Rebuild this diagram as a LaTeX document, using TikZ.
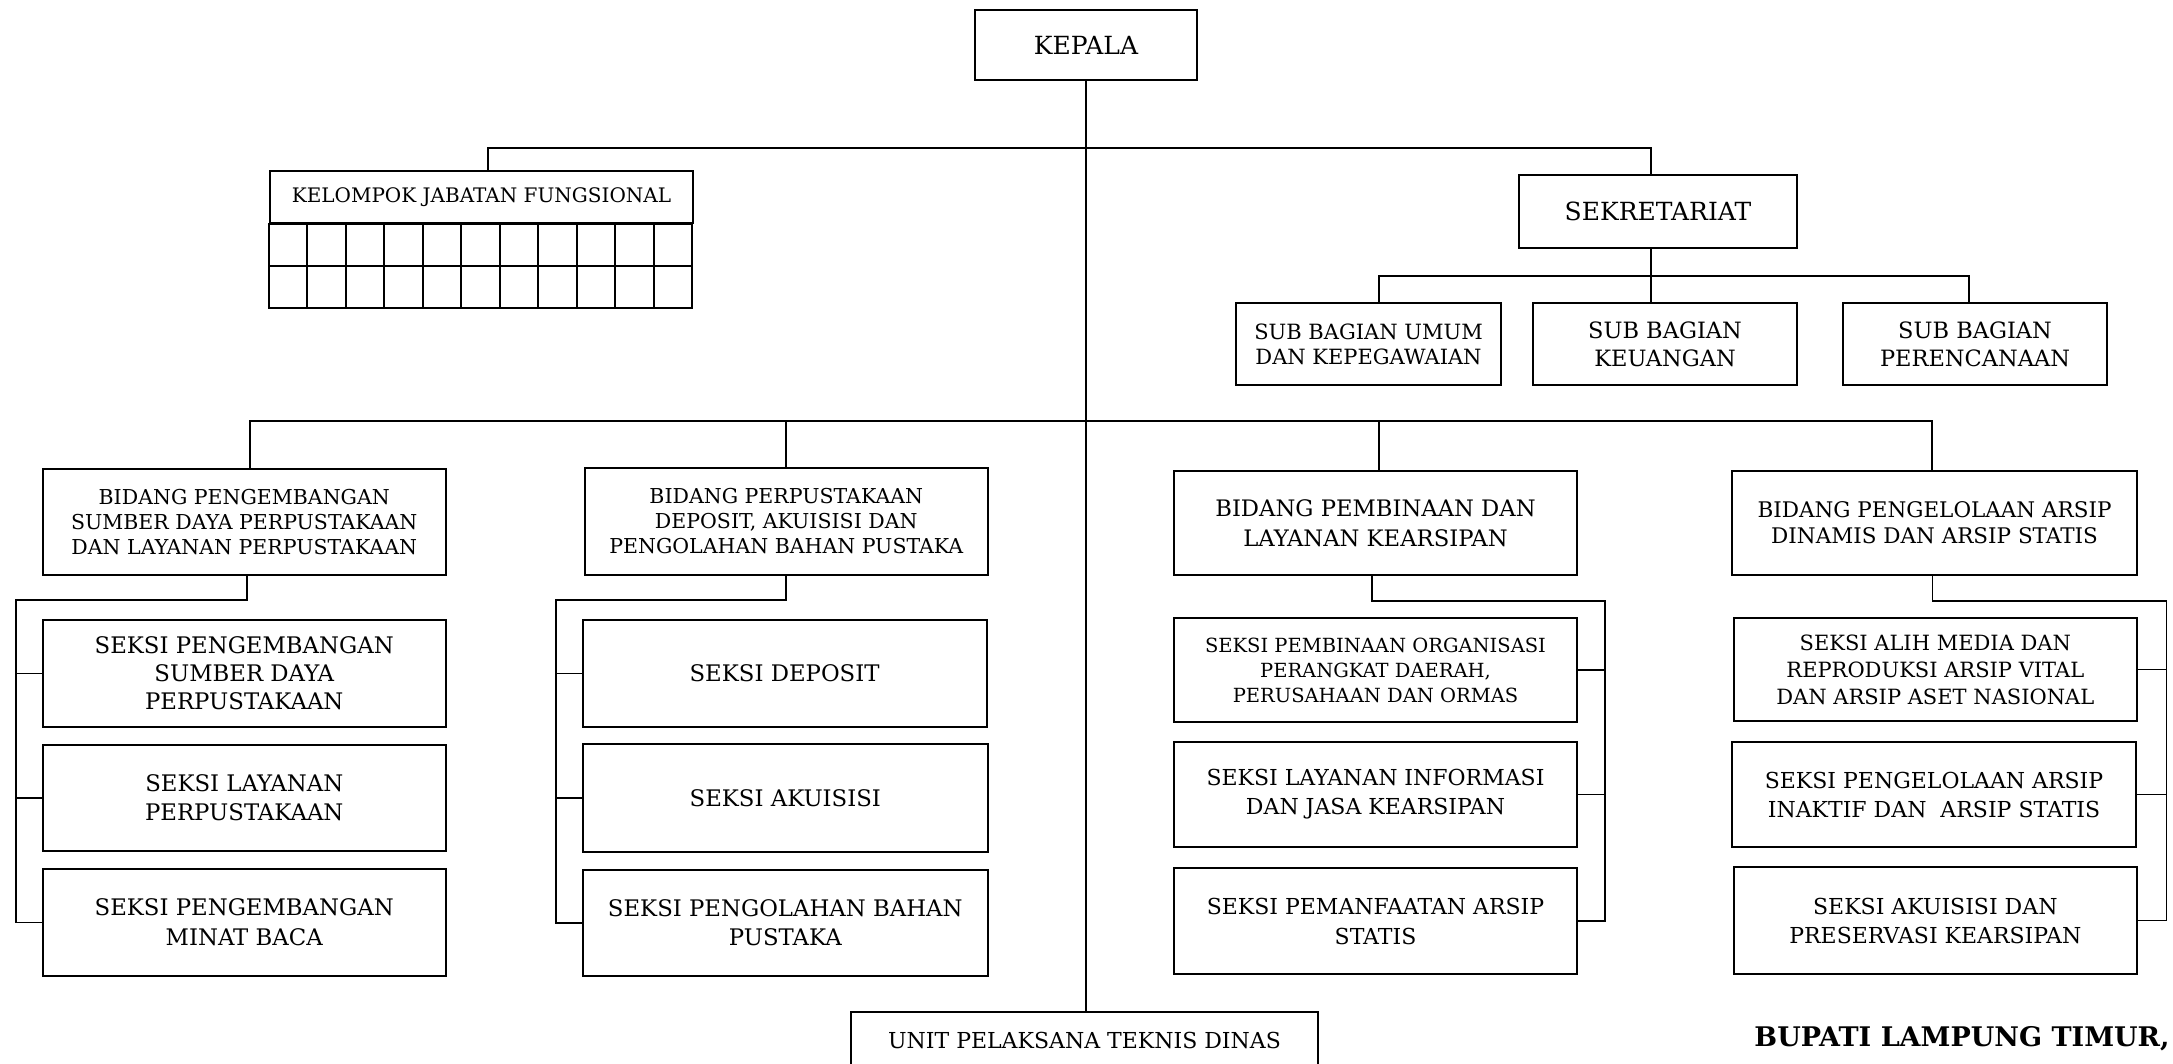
\documentclass[tikz,border=0pt]{standalone}
\usepackage{fontspec}
\setmainfont{DejaVu Serif}
\begin{document}
\begin{tikzpicture}[x=1pt,y=-1pt,
  bx/.style={draw, line width=2pt, inner sep=0pt, align=center, anchor=north west},
  ln/.style={line width=1.9pt},
  fs/.style 2 args={font=\fontsize{#1}{#2}\selectfont}
]
\useasboundingbox (0,0) rectangle (2173,1064);
\clip (0,0) rectangle (2173,1064);

% top
\node[bx, fs={25}{30}, minimum width=222pt, minimum height=70pt] (kepala) at (974,9) {KEPALA};
\node[bx, fs={20}{24}, minimum width=423pt, minimum height=52pt] (kjf) at (269,170) {KELOMPOK JABATAN FUNGSIONAL};
\draw[line width=2pt] (kjf.south west) rectangle ++(423,84);
\draw[line width=2pt] ([yshift=-42pt]kjf.south west) -- ++(423,0);
\foreach \i in {1,...,10} \draw[line width=2pt] ([xshift=\i*38.4545pt]kjf.south west) -- ++(0,84);

\node[bx, fs={25}{30}, minimum width=278pt, minimum height=73pt] (sekr) at (1518,174) {SEKRETARIAT};
\node[bx, fs={21}{25}, minimum width=265pt, minimum height=82pt] (sub1) at (1235,302) {SUB BAGIAN UMUM\\DAN KEPEGAWAIAN};
\node[bx, fs={22.5}{28}, minimum width=264pt, minimum height=82pt] (sub2) at (1532,302) {SUB BAGIAN\\KEUANGAN};
\node[bx, fs={22.5}{28}, minimum width=264pt, minimum height=82pt] (sub3) at (1842,302) {SUB BAGIAN\\PERENCANAAN};

% bidang
\node[bx, fs={20.5}{25}, minimum width=403.5pt, minimum height=106pt] (bid1) at (41.5,468) {BIDANG PENGEMBANGAN\\SUMBER DAYA PERPUSTAKAAN\\DAN LAYANAN PERPUSTAKAAN};
\node[bx, fs={20.5}{25}, minimum width=403.5pt, minimum height=107pt] (bid2) at (583.5,467) {BIDANG PERPUSTAKAAN\\DEPOSIT, AKUISISI DAN\\PENGOLAHAN BAHAN PUSTAKA};
\node[bx, fs={22.7}{30}, minimum width=403pt, minimum height=104pt] (bid3) at (1173,470) {BIDANG PEMBINAAN DAN\\LAYANAN KEARSIPAN};
\node[bx, fs={21.5}{26}, minimum width=405pt, minimum height=104pt] (bid4) at (1731,470) {BIDANG PENGELOLAAN ARSIP\\DINAMIS DAN ARSIP STATIS};

% seksi column 1
\node[bx, fs={22.8}{28}, minimum width=403.5pt, minimum height=107pt] (s11) at (41.5,619) {SEKSI PENGEMBANGAN\\SUMBER DAYA\\PERPUSTAKAAN};
\node[bx, fs={22.8}{29}, minimum width=403.5pt, minimum height=106pt] (s12) at (41.5,744) {SEKSI LAYANAN\\PERPUSTAKAAN};
\node[bx, fs={22.8}{30}, minimum width=403.5pt, minimum height=107pt] (s13) at (41.5,868) {SEKSI PENGEMBANGAN\\MINAT BACA};
% column 2
\node[bx, fs={22.8}{29}, minimum width=404pt, minimum height=107pt] (s21) at (581.6,619) {SEKSI DEPOSIT};
\node[bx, fs={22.8}{29}, minimum width=405.4pt, minimum height=108pt] (s22) at (581.6,743) {SEKSI AKUISISI};
\node[bx, fs={22.8}{29}, minimum width=405.4pt, minimum height=106pt] (s23) at (581.6,869) {SEKSI PENGOLAHAN BAHAN\\PUSTAKA};
% column 3
\node[bx, fs={19.5}{25}, minimum width=403pt, minimum height=104pt] (s31) at (1173,617) {SEKSI PEMBINAAN ORGANISASI\\PERANGKAT DAERAH,\\PERUSAHAAN DAN ORMAS};
\node[bx, fs={22}{29}, minimum width=403pt, minimum height=105pt] (s32) at (1173,741) {SEKSI LAYANAN INFORMASI\\DAN JASA KEARSIPAN};
\node[bx, fs={22}{30}, minimum width=403pt, minimum height=106pt] (s33) at (1173,867) {SEKSI PEMANFAATAN ARSIP\\STATIS};
% column 4
\node[bx, fs={21}{27}, minimum width=403.4pt, minimum height=103pt] (s41) at (1732.6,617) {SEKSI ALIH MEDIA DAN\\REPRODUKSI ARSIP VITAL\\DAN ARSIP ASET NASIONAL};
\node[bx, fs={22}{29}, minimum width=404pt, minimum height=105pt] (s42) at (1731,741) {SEKSI PENGELOLAAN ARSIP\\INAKTIF DAN \ ARSIP STATIS};
\node[bx, fs={22}{29}, minimum width=403.4pt, minimum height=107pt] (s43) at (1732.6,866) {SEKSI AKUISISI DAN\\PRESERVASI KEARSIPAN};

% bottom
\node[bx, fs={22}{26}, minimum width=467pt, minimum height=56pt] (upt) at (850,1011) {UNIT PELAKSANA TEKNIS DINAS};
\node[font=\fontsize{27}{32}\selectfont\bfseries, inner sep=0pt] (bupati) at (1962,1039) {BUPATI LAMPUNG TIMUR,};

% connectors
\coordinate (bj) at (1085,421);
\draw[ln] (kepala.south) -- (kepala.south |- upt.north);
\draw[ln] ([xshift=6.5pt]kjf.north) -- ++(0,-22) -| ([xshift=-7pt]sekr.north);
\draw[ln] ([xshift=-7pt]sekr.south) -- ++(0,27) coordinate (sj);
\draw[ln] ([xshift=10.5pt]sub1.north) |- (sj) -| ([xshift=-6pt]sub3.north);
\draw[ln] (sj) -- (sj |- sub2.north);
\draw[ln] ([xshift=5.75pt]bid1.north) |- (bj) -| ([xshift=-2.5pt]bid4.north);
\draw[ln] (bid2.north) -- (bid2.north |- bj);
\draw[ln] ([xshift=3.5pt]bid3.north) -- ([xshift=3.5pt]bid3.north |- bj);

\draw[ln] ([xshift=3pt]bid1.south) -- ++(0,24) -| ([xshift=-25.5pt]s13.west) -- (s13.west);
\draw[ln] (s11.west) -- ++(-25.5,0);
\draw[ln] (s12.west) -- ++(-25.5,0);
\draw[ln] (bid2.south) -- ++(0,24) -| ([xshift=-26pt]s23.west) -- (s23.west);
\draw[ln] (s21.west) -- ++(-26,0);
\draw[ln] (s22.west) -- ++(-26,0);
\draw[ln] ([xshift=-3.5pt]bid3.south) -- ++(0,25) -| ([xshift=27pt]s33.east) -- (s33.east);
\draw[ln] (s31.east) -- ++(27,0);
\draw[ln] (s32.east) -- ++(27,0);
\draw[ln] ([xshift=-2pt]bid4.south) -- ++(0,25) -| ([xshift=28.5pt]s43.east) -- (s43.east);
\draw[ln] (s41.east) -- ++(28.5,0);
\draw[ln] (s42.east) -- ++(28.5,0);
\end{tikzpicture}
\end{document}
